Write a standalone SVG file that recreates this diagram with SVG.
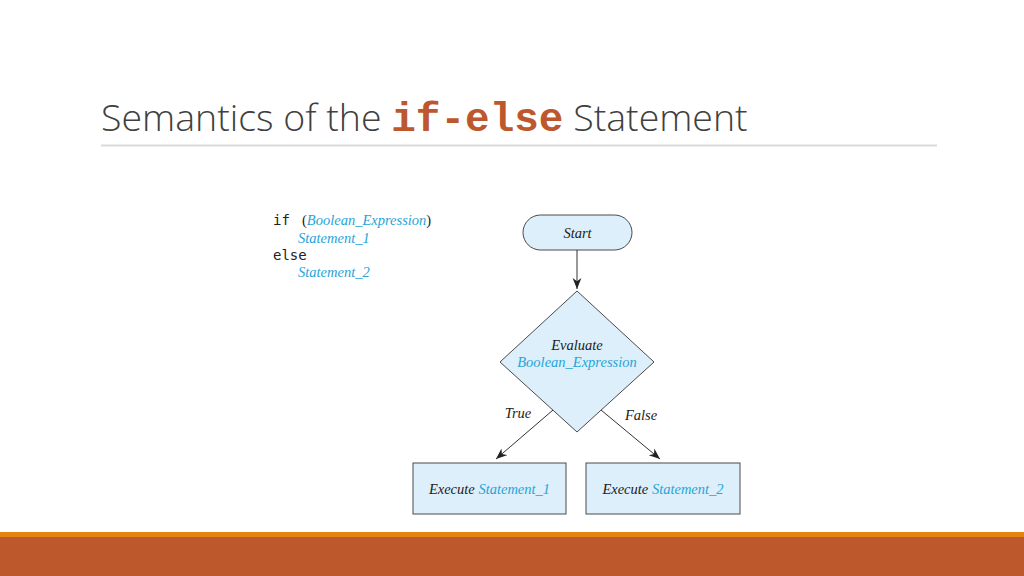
<svg xmlns="http://www.w3.org/2000/svg" width="1024" height="576" viewBox="0 0 1024 576">
<defs>
<style>
.node{fill:#DCEFFA;stroke:#4A4A4A;stroke-width:1}
.conn{stroke:#333;stroke-width:1;fill:none}
.lbl{font-family:"Liberation Serif",serif;font-style:italic;font-size:14.5px;fill:#222}
.blue{fill:#27A4D8}
.mono{font-family:"DejaVu Sans Mono","Liberation Mono",monospace;font-size:14px;fill:#222}
</style>
<marker id="ah" viewBox="0 0 10 10" refX="10" refY="5" markerWidth="11" markerHeight="11" markerUnits="userSpaceOnUse" orient="auto">
<path d="M0,1 L10,5 L0,9 L3,5 Z" fill="#222"/>
</marker>
</defs>
<rect width="1024" height="576" fill="#fff"/>
<text x="101" y="131" font-family="'Open Sans','Liberation Sans',sans-serif" font-weight="300" font-size="37.5" fill="#404040" letter-spacing="0">Semantics of the <tspan font-family="'Liberation Mono',monospace" font-weight="bold" font-size="41" fill="#BC582C">if-else</tspan> Statement</text>
<line x1="101" y1="145.5" x2="937" y2="145.5" stroke="#D9D9D9" stroke-width="2"/>

<g id="code">
<text class="mono" x="273" y="225">if</text>
<text class="lbl" x="302" y="225"><tspan font-style="normal">(</tspan><tspan class="blue">Boolean_Expression</tspan><tspan font-style="normal">)</tspan></text>
<text class="lbl blue" x="298" y="243">Statement_1</text>
<text class="mono" x="273" y="260">else</text>
<text class="lbl blue" x="298" y="277">Statement_2</text>
</g>

<g id="start">
<rect class="node" x="523" y="215" width="109" height="35" rx="17.5"/>
<text class="lbl" x="577.5" y="237.5" text-anchor="middle">Start</text>
</g>
<g id="evaluate">
<polygon class="node" points="577,291 654,362 577,432 500,362"/>
<text class="lbl" x="577" y="350" text-anchor="middle">Evaluate</text>
<text class="lbl blue" x="577" y="367" text-anchor="middle">Boolean_Expression</text>
</g>
<g id="exec1">
<rect class="node" x="413" y="463" width="153" height="51"/>
<text class="lbl" x="489.5" y="494" text-anchor="middle">Execute <tspan class="blue">Statement_1</tspan></text>
</g>
<g id="exec2">
<rect class="node" x="586" y="463" width="154" height="51"/>
<text class="lbl" x="663" y="494" text-anchor="middle">Execute <tspan class="blue">Statement_2</tspan></text>
</g>

<g id="connectors">
<line class="conn" x1="577" y1="250" x2="577" y2="289" marker-end="url(#ah)"/>
<line class="conn" x1="553" y1="410" x2="496" y2="459" marker-end="url(#ah)"/>
<line class="conn" x1="601" y1="410" x2="660" y2="459" marker-end="url(#ah)"/>
<text class="lbl" x="518" y="418" text-anchor="middle">True</text>
<text class="lbl" x="641" y="420" text-anchor="middle">False</text>
</g>

<rect x="0" y="532" width="1024" height="6" fill="#E48312"/>
<rect x="0" y="537" width="1024" height="39" fill="#BC582C"/>
</svg>
